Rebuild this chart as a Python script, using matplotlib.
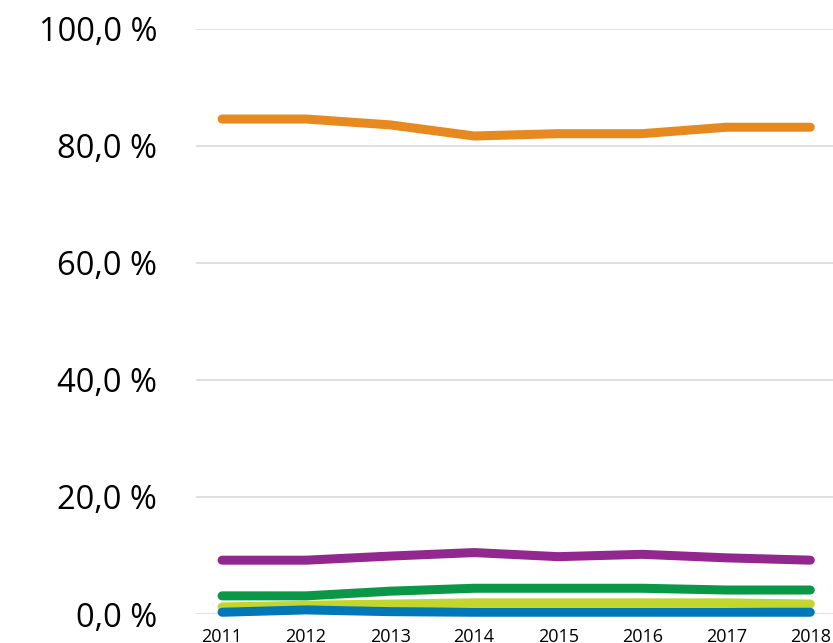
import matplotlib
matplotlib.use("Agg")
import matplotlib.pyplot as plt
from matplotlib.ticker import FuncFormatter

years = [2011, 2012, 2013, 2014, 2015, 2016, 2017, 2018]
orange = [84.6, 84.6, 83.6, 81.7, 82.1, 82.1, 83.2, 83.2]
purple = [9.2, 9.2, 9.9, 10.5, 9.8, 10.2, 9.6, 9.2]
green = [3.1, 3.1, 3.9, 4.4, 4.4, 4.4, 4.1, 4.1]
lime = [1.2, 1.5, 1.7, 1.9, 1.9, 1.9, 1.9, 1.7]
blue = [0.3, 0.7, 0.4, 0.3, 0.3, 0.3, 0.3, 0.3]

series = [
    (lime, "#C3D62E"),
    (blue, "#0078B7"),
    (green, "#0B9748"),
    (purple, "#92278F"),
    (orange, "#E68A1F"),
]

plt.rcParams['font.family'] = ['Open Sans', 'DejaVu Sans']
fig = plt.figure(figsize=(8.33, 6.43), dpi=100)
ax = fig.add_axes([0.2353, 0.0451, 0.7647, 0.9099])
ax.set_xlim(2010.69, 2018.27)
ax.set_ylim(0, 100)
ax.set_yticks([0, 20, 40, 60, 80, 100])
ax.set_xticks(years)
ax.yaxis.set_major_formatter(FuncFormatter(lambda v, p: f"{v:.1f}".replace('.', ',') + " %"))
ax.grid(axis='y', color='#d9d9d9', linewidth=1.2)
ax.set_axisbelow(True)
for s in ax.spines.values():
    s.set_visible(False)
ax.tick_params(axis='both', length=0)
ax.tick_params(axis='y', labelsize=23.5, pad=28, colors='#000000')
ax.tick_params(axis='x', labelsize=13, pad=10)

for vals, col in series:
    ax.plot(years, vals, color=col, linewidth=6.5, solid_capstyle='round', solid_joinstyle='round', clip_on=False)

fig.savefig("out.png", dpi=100)
